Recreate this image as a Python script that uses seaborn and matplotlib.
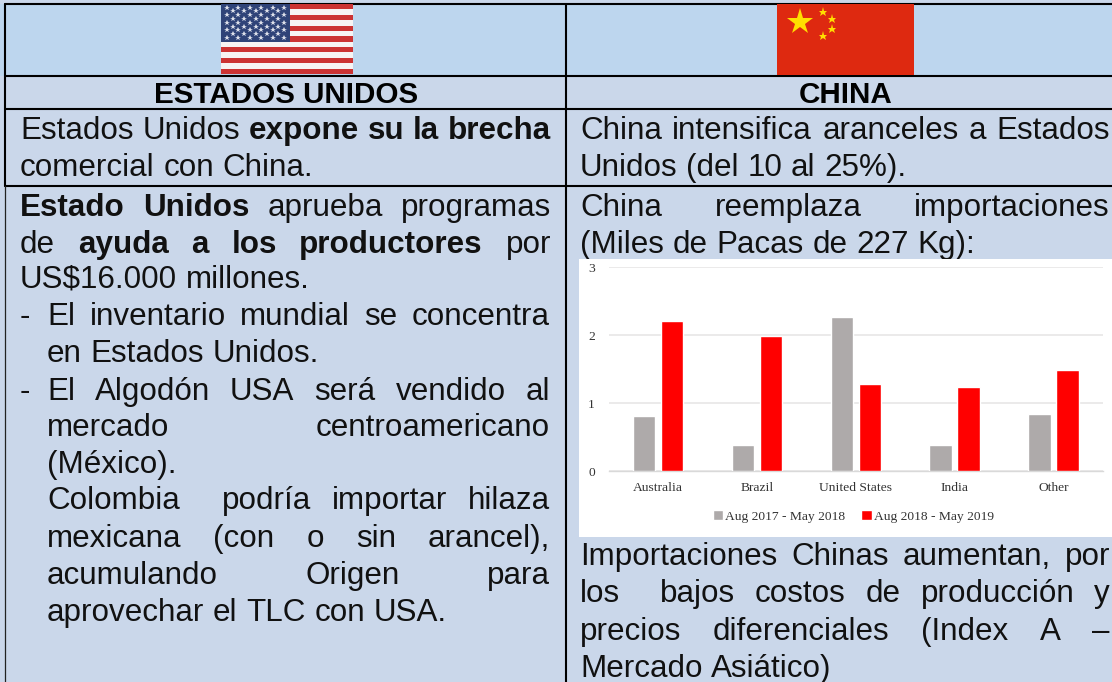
import matplotlib
matplotlib.use('Agg')
import matplotlib.pyplot as plt
from matplotlib.patches import Rectangle
import pandas as pd
import seaborn as sns

# Datos de la grafica
paises = ['Australia', 'Brazil', 'United States', 'India', 'Other']
periodo_1 = [0.81, 0.38, 2.26, 0.38, 0.84]
periodo_2 = [2.21, 1.99, 1.28, 1.24, 1.48]
nombre_1 = 'Aug 2017 - May 2018'
nombre_2 = 'Aug 2018 - May 2019'
ticks_y = [0, 1, 2, 3]

# Texto de la tabla: (x, y base, ancho justificado o None, [(texto, negrita), ...])
X1, W1 = 20, 531
X2, W2 = 580, 530
lineas = [
    (X1, 139, W1, [('Estados Unidos', 0), ('expone su la brecha', 1)]),
    (X1, 176, None, [('comercial con China.', 0)]),
    (X1, 216, W1, [('Estado Unidos', 1), ('aprueba programas', 0)]),
    (X1, 253, W1, [('de', 0), ('ayuda a los productores', 1), ('por', 0)]),
    (X1, 288, None, [('US$16.000 millones.', 0)]),
    (X1, 325, None, [('-', 0)]),
    (47, 325, 503, [('El inventario mundial se concentra', 0)]),
    (47, 362, None, [('en Estados Unidos.', 0)]),
    (X1, 400, None, [('-', 0)]),
    (47, 400, 503, [('El Algodón USA será vendido al', 0)]),
    (47, 436, 503, [('mercado', 0), ('centroamericano', 0)]),
    (47, 473, None, [('(México).', 0)]),
    (47, 509, 503, [('Colombia', 0), ('', 0), ('podría importar hilaza', 0)]),
    (47, 547, 503, [('mexicana (con o sin arancel),', 0)]),
    (47, 584, 503, [('acumulando', 0), ('Origen', 0), ('para', 0)]),
    (47, 621, None, [('aprovechar el TLC con USA.', 0)]),
    (X2, 139, W2, [('China intensifica aranceles a Estados', 0)]),
    (X2, 176, None, [('Unidos (del 10 al 25%).', 0)]),
    (X2, 216, W2, [('China', 0), ('reemplaza', 0), ('importaciones', 0)]),
    (X2, 253, None, [('(Miles de Pacas de 227 Kg):', 0)]),
    (X2, 565, W2, [('Importaciones Chinas aumentan, por', 0)]),
    (X2, 602, W2, [('los', 0), ('', 0), ('bajos costos de producción y', 0)]),
    (X2, 640, W2, [('precios diferenciales (Index A –', 0)]),
    (X2, 677, None, [('Mercado Asiático)', 0)]),
]

AZUL_1 = '#BDD6EE'
AZUL_2 = '#CAD7EA'
TAM = 22.6
TAM_CHART = 9.7

sns.set_theme(style='white')
plt.rcParams['font.family'] = ['Liberation Sans', 'DejaVu Sans']

fig = plt.figure(figsize=(11.12, 6.82), dpi=100)

# Fondo de la tabla en coordenadas de pixel
bg = fig.add_axes([0, 0, 1, 1])
bg.set_xlim(0, 1112)
bg.set_ylim(682, 0)
bg.axis('off')
bg.add_patch(Rectangle((0, 0), 1112, 682, color=AZUL_2, lw=0))
bg.add_patch(Rectangle((0, 4), 1112, 72, color=AZUL_1, lw=0))
for y in [4, 76, 109, 186]:
    bg.plot([5, 1112], [y, y], color='black', lw=1.5, zorder=5)
bg.plot([5, 5], [4, 186], color='black', lw=1.5, zorder=5)
bg.plot([5, 5], [186, 682], color='#222222', lw=0.9, zorder=5)
bg.plot([566, 566], [4, 682], color='black', lw=1.5, zorder=5)

# Bandera de Estados Unidos
fx, fy, fw, fh = 221, 4, 132, 70
for i in range(13):
    color = '#CC3333' if i % 2 == 0 else '#F7F3F3'
    bg.add_patch(Rectangle((fx, fy + i * fh / 13), fw, fh / 13, color=color, lw=0, zorder=6))
bg.add_patch(Rectangle((fx, fy), 69, 37.5, color='#2F4378', lw=0, zorder=7))
for fila in range(9):
    n = 6 if fila % 2 == 0 else 5
    for c in range(n):
        sx = fx + 6 + c * 11.4 + (0 if fila % 2 == 0 else 5.7)
        sy = fy + 3.5 + fila * 3.8
        bg.plot(sx, sy, marker='*', ms=4.4, color='#DDE0EA', mew=0, zorder=8)

# Bandera de China
bg.add_patch(Rectangle((777, 4), 137, 71, color='#DE2910', lw=0, zorder=6))
bg.plot(800, 22, marker='*', ms=20, color='#FFDE00', mew=0, zorder=7)
for sx, sy in [(823, 11.5), (832, 18.5), (832, 29), (823, 36)]:
    bg.plot(sx, sy, marker='*', ms=6.5, color='#FFDE00', mew=0, zorder=7)

# Encabezados
bg.text(286, 92, 'ESTADOS UNIDOS', ha='center', va='center_baseline', fontsize=21.3, fontweight='bold', color='black')
bg.text(846, 92, 'CHINA', ha='center', va='center_baseline', fontsize=21.3, fontweight='bold', color='black')

# Texto, justificado a mano palabra por palabra
rend = fig.canvas.get_renderer()
for x, y, ancho, trozos in lineas:
    piezas = []
    for txt, neg in trozos:
        for p in txt.split(' '):
            piezas.append((p, neg))
    objs = [bg.text(0, y, p, fontsize=TAM, va='baseline', color='#111111',
                    fontweight='bold' if neg else 'normal') for p, neg in piezas]
    anchos = [o.get_window_extent(rend).width if o.get_text() else 0 for o in objs]
    if ancho is None or len(objs) == 1:
        hueco = 8.7
    else:
        hueco = (ancho - sum(anchos)) / (len(objs) - 1)
    cx = x
    for o, a in zip(objs, anchos):
        o.set_x(cx)
        cx += a + hueco

# Imagen de la grafica (fondo blanco)
bg.add_patch(Rectangle((579, 259), 533, 278, color='white', lw=0, zorder=6))

df = pd.DataFrame({
    'pais': paises * 2,
    'valor': periodo_1 + periodo_2,
    'periodo': [nombre_1] * len(paises) + [nombre_2] * len(paises),
})

ax = fig.add_axes([608.8 / 1112, 1 - 471 / 682, 494 / 1112, 204 / 682], zorder=10)
ax.patch.set_alpha(0)
sns.barplot(data=df, x='pais', y='valor', hue='periodo', order=paises,
            palette=['#AEAAAA', '#FF0000'], width=0.568, gap=0.197, saturation=1,
            ax=ax, zorder=3)
ax.set_xlim(-0.5, 4.5)
ax.set_ylim(0, 3)
ax.set_yticks(ticks_y)
ax.set_xlabel('')
ax.set_ylabel('')
ax.grid(axis='y', color='#E7E6E6', lw=1.2, zorder=0)
ax.set_axisbelow(True)
sns.despine(ax=ax, left=True, top=True, right=True, bottom=False)
ax.spines['bottom'].set_color('#D9D9D9')
ax.spines['bottom'].set_linewidth(1)
ax.tick_params(axis='both', length=0, labelsize=TAM_CHART, labelcolor='#333333')
ax.tick_params(axis='x', pad=8)
ax.tick_params(axis='y', pad=10)
for t in ax.get_xticklabels() + ax.get_yticklabels():
    t.set_fontfamily(['Liberation Serif', 'DejaVu Serif'])

leg = ax.legend(loc='upper center', bbox_to_anchor=(0.495, -0.16), ncol=2, frameon=False,
                prop={'family': 'Liberation Serif', 'size': TAM_CHART},
                handlelength=0.75, handleheight=0.75, handletextpad=0.15, columnspacing=1.2,
                borderpad=0, labelcolor='#333333')

fig.savefig('out.png', dpi=100)
